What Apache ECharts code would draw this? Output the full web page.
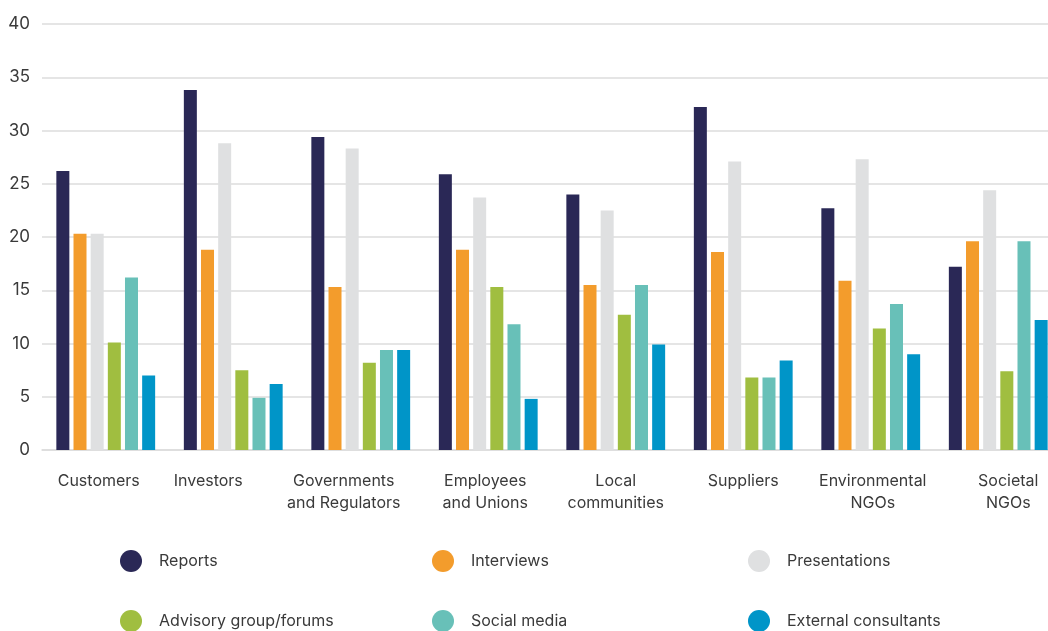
<!DOCTYPE html>
<html>
<head>
<meta charset="utf-8">
<script src="https://cdn.jsdelivr.net/npm/echarts@6/dist/echarts.min.js"></script>
<style>
  html, body { margin: 0; padding: 0; background: #fff; overflow: hidden; }
  /* the plot runs past the right edge of the page, so the canvas is wider than the window */
  #chart { width: 1062px; height: 631px; }
</style>
</head>
<body>
<div id="chart"></div>
<script>
// Stakeholder groups along the x axis
const categories = [
  'Customers', 'Investors', 'Governments\nand Regulators', 'Employees\nand Unions',
  'Local\ncommunities', 'Suppliers', 'Environmental\nNGOs', 'Societal\nNGOs'
];

// Engagement channels (one series each)
const reports        = [26.2, 33.8, 29.4, 25.9, 24.0, 32.2, 22.7, 17.2];
const interviews     = [20.3, 18.8, 15.3, 18.8, 15.5, 18.6, 15.9, 19.6];
const presentations  = [20.3, 28.8, 28.3, 23.7, 22.5, 27.1, 27.3, 24.4];
const advisory       = [10.1,  7.5,  8.2, 15.3, 12.7,  6.8, 11.4,  7.4];
const socialMedia    = [16.2,  4.9,  9.4, 11.8, 15.5,  6.8, 13.7, 19.6];
const consultants    = [ 7.0,  6.2,  9.4,  4.8,  9.9,  8.4,  9.0, 12.2];

const yTicks = [0, 5, 10, 15, 20, 25, 30, 35, 40];

const seriesDefs = [
  { name: 'Reports',               data: reports,       color: '#2a2856' },
  { name: 'Interviews',            data: interviews,    color: '#f39c2c' },
  { name: 'Presentations',         data: presentations, color: '#dfe0e1' },
  { name: 'Advisory group/forums', data: advisory,      color: '#a0be40' },
  { name: 'Social media',          data: socialMedia,   color: '#68c0b8' },
  { name: 'External consultants',  data: consultants,   color: '#0095c8' }
];

// Horizontal nudge (px) for each category label relative to its bar group
const labelNudge = [-7, -25, -17, -3, 0, 0, 2, 10];

// Legend laid out as a 3 x 2 table of circle markers
const legendSpots = [
  { left: 120, top: 550 }, { left: 432, top: 550 }, { left: 748, top: 550 },
  { left: 120, top: 610 }, { left: 432, top: 610 }, { left: 748, top: 610 }
];

const FONT = 'Inter, Roboto, sans-serif';
const TEXT = '#3a3a3a';

const chart = echarts.init(document.getElementById('chart'));
chart.setOption({
  animation: false,
  color: seriesDefs.map(s => s.color),
  grid: { left: 42, top: 24, width: 1020, height: 426 },
  xAxis: {
    type: 'category',
    data: categories.map((c, i) => {
      const d = labelNudge[i];
      return {
        value: c,
        textStyle: { padding: [0, d < 0 ? -2 * d : 0, 0, d > 0 ? 2 * d : 0] }
      };
    }),
    axisLine: { show: true, lineStyle: { color: '#dcdcdc', width: 1.5 } },
    axisTick: { show: false },
    axisLabel: {
      color: TEXT, fontFamily: FONT, fontSize: 16, lineHeight: 22, margin: 20,
      interval: 0
    }
  },
  yAxis: {
    type: 'value',
    min: yTicks[0],
    max: yTicks[yTicks.length - 1],
    interval: yTicks[1] - yTicks[0],
    axisLine: { show: false },
    axisTick: { show: false },
    splitLine: { lineStyle: { color: '#dcdcdc', width: 1.5 } },
    axisLabel: { color: TEXT, fontFamily: FONT, fontSize: 17, margin: 12 }
  },
  legend: seriesDefs.map((s, i) => ({
    data: [s.name],
    left: legendSpots[i].left,
    top: legendSpots[i].top,
    padding: 0,
    icon: 'circle',
    itemWidth: 22,
    itemHeight: 22,
    formatter: n => '{t|' + n + '}',
    textStyle: {
      color: TEXT, fontFamily: FONT, fontSize: 16,
      rich: { t: { padding: [0, 0, 0, 12], color: TEXT, fontFamily: FONT, fontSize: 16 } }
    }
  })),
  series: seriesDefs.map(s => ({
    name: s.name,
    type: 'bar',
    data: s.data,
    barWidth: 13,
    barGap: '32%',
    itemStyle: { color: s.color }
  }))
});
</script>
</body>
</html>
